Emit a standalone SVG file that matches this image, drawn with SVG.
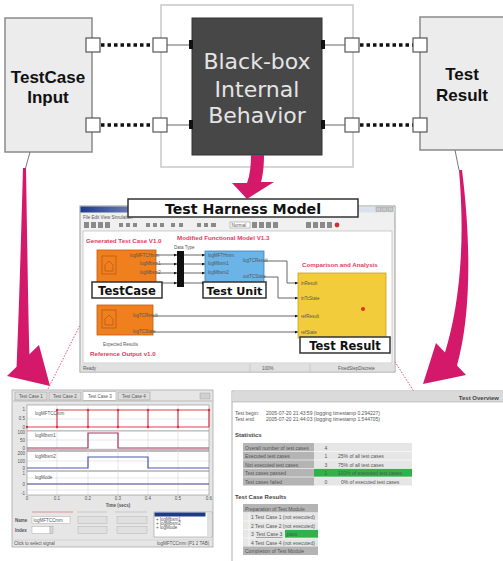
<svg xmlns="http://www.w3.org/2000/svg" width="503" height="561" viewBox="0 0 503 561">
  <style>
    .box { fill: #ececec; stroke: #8a8a8a; stroke-width: 1.5; }
    .port { fill: #ffffff; stroke: #555555; stroke-width: 1.2; }
    .dots { stroke: #111111; stroke-width: 3.5; stroke-dasharray: 3.5 3; fill: none; }
    .wire { stroke: #666666; stroke-width: 1; fill: none; }
    .pin { fill: #111111; }
    .big { font-family: "Liberation Sans", Arial, sans-serif; font-weight: bold; font-size: 17px; fill: #111111; text-anchor: middle; }
    .inner { font-family: "DejaVu Sans", Verdana, sans-serif; font-size: 22px; fill: #e4e4e4; text-anchor: middle; }
    .tag { fill: #ffffff; stroke: #333333; stroke-width: 1.5; }
    .tagt { font-family: "DejaVu Sans", Verdana, sans-serif; font-weight: bold; fill: #111111; text-anchor: middle; }
    .swoosh { fill: #d4196b; }
    .lead { stroke: #e0507a; stroke-width: 1; stroke-dasharray: 1.5 1.5; fill: none; }
    .tiny { font-family: "Liberation Sans", Arial, sans-serif; font-size: 4.5px; fill: #555555; }
    .redt { font-family: "Liberation Sans", Arial, sans-serif; font-weight: bold; font-size: 6.2px; fill: #e23a5e; }
    .sig { stroke-width: 1.2; fill: none; }
    .grid { stroke: #d6d6d6; stroke-width: 0.6; }
    .tb { fill: #b4b4b4; }
    .tl { fill: #e6e6e6; }
    .rep { font-family: "Liberation Sans", Arial, sans-serif; font-size: 5px; fill: #555555; }
    .reph { font-family: "Liberation Sans", Arial, sans-serif; font-size: 6px; font-weight: bold; fill: #444444; }
  </style>
  <defs>
    <marker id="tip" viewBox="0 0 4 4" refX="4" refY="2" markerWidth="3" markerHeight="3" orient="auto">
      <path d="M0 0 L4 2 L0 4 Z" fill="#111111"/>
    </marker>
    <linearGradient id="titlebar" x1="0" x2="1" y1="0" y2="0">
      <stop offset="0" stop-color="#1e3a8c"/>
      <stop offset="0.2" stop-color="#7d8fbf"/>
      <stop offset="0.4" stop-color="#cfd8e8"/>
      <stop offset="1" stop-color="#dde3ee"/>
    </linearGradient>
  </defs>

  <!-- test case input block -->
  <g id="testcase-input">
    <rect class="box" x="5" y="18" width="87" height="134"/>
    <text class="big" x="48" y="83">TestCase</text>
    <text class="big" x="48" y="103">Input</text>
  </g>

  <!-- black box frame -->
  <g id="blackbox">
    <rect x="161" y="5" width="192" height="162" fill="#ffffff" stroke="#c8c8c8" stroke-width="1.5"/>
    <rect x="192" y="18" width="130" height="137" fill="#474747" stroke="#333333" stroke-width="1"/>
    <text class="inner" x="257" y="69">Black-box</text>
    <text class="inner" x="257" y="97">Internal</text>
    <text class="inner" x="257" y="123">Behavior</text>
  </g>

  <!-- test result block -->
  <g id="test-result">
    <rect class="box" x="420" y="17" width="92" height="133"/>
    <text class="big" x="462" y="80">Test</text>
    <text class="big" x="462" y="101">Result</text>
  </g>

  <!-- ports and signal links -->
  <g id="connectors">
    <line class="dots" x1="101" y1="45" x2="153" y2="45"/>
    <line class="dots" x1="101" y1="125" x2="153" y2="125"/>
    <line class="dots" x1="360" y1="45" x2="413" y2="45"/>
    <line class="dots" x1="360" y1="125" x2="413" y2="125"/>
    <line class="wire" x1="167" y1="45" x2="191" y2="45"/>
    <line class="wire" x1="167" y1="125" x2="191" y2="125"/>
    <line class="wire" x1="325" y1="45" x2="345" y2="45"/>
    <line class="wire" x1="325" y1="125" x2="345" y2="125"/>
    <rect class="pin" x="189" y="40" width="4" height="9"/>
    <rect class="pin" x="189" y="120" width="4" height="9"/>
    <rect class="pin" x="321" y="40" width="4" height="9"/>
    <rect class="pin" x="321" y="120" width="4" height="9"/>
    <rect class="port" x="86" y="38" width="14" height="14"/>
    <rect class="port" x="86" y="118" width="14" height="14"/>
    <rect class="port" x="153" y="38" width="14" height="14"/>
    <rect class="port" x="153" y="118" width="14" height="14"/>
    <rect class="port" x="345" y="38" width="14" height="14"/>
    <rect class="port" x="345" y="118" width="14" height="14"/>
    <rect class="port" x="413" y="38" width="14" height="14"/>
    <rect class="port" x="413" y="118" width="14" height="14"/>

    <!-- thin stems and curved arrows -->
    <line x1="30" y1="152" x2="25" y2="170" stroke="#777777" stroke-width="1"/>
    <line x1="455" y1="150" x2="459" y2="170" stroke="#777777" stroke-width="1"/>
    <path class="swoosh" d="M251 155 L264 155 C264 165 263 175 261 182 L274 182 L247 199 L232 183 L247 183 C250 175 251 165 251 155 Z"/>
    <path class="swoosh" d="M23 168 C21 240 19 310 16.6 366.7 L7 376 L50 386 L39 345 L29.4 354.3 C28 300 27 230 26 168 Z"/>
    <path class="swoosh" d="M462 170 C472 250 470 320 457 365.4 L466 375 L423 384 L436 343 L445 352.6 C458 310 466 250 459 170 Z"/>

    <!-- dotted leaders -->
    <line class="lead" x1="93" y1="299" x2="46" y2="393"/>
    <line class="lead" x1="363" y1="309" x2="381" y2="337"/>
    <line class="lead" x1="390" y1="354" x2="420" y2="401"/>
  </g>

  <!-- harness model window -->
  <g id="harness-model">
    <rect x="80" y="206" width="315" height="166" fill="#f0f0f0" stroke="#9a9a9a" stroke-width="1"/>
    <rect x="80.5" y="206.5" width="314" height="6" fill="url(#titlebar)"/>
    <rect x="376" y="207" width="5" height="4.5" fill="#c8c8c8" stroke="#888" stroke-width="0.4"/>
    <rect x="382" y="207" width="5" height="4.5" fill="#c8c8c8" stroke="#888" stroke-width="0.4"/>
    <rect x="388" y="207" width="5" height="4.5" fill="#c8c8c8" stroke="#888" stroke-width="0.4"/>
    <text class="tiny" x="83" y="218.5">File  Edit  View  Simulation</text>
    <g fill="#8a8a8a">
      <rect x="84" y="222" width="5" height="6"/><rect x="91" y="222" width="5" height="6"/><rect x="98" y="222" width="5" height="6"/><rect x="105" y="222" width="5" height="6"/>
      <rect x="119" y="223" width="4" height="4"/><rect x="126" y="223" width="4" height="4"/><rect x="133" y="223" width="4" height="4"/>
      <rect x="146" y="223" width="4" height="4"/><rect x="153" y="223" width="4" height="4"/><rect x="160" y="223" width="4" height="4"/>
      <rect x="171" y="223" width="4" height="4"/><rect x="179" y="223" width="4" height="4"/>
      <rect x="197" y="223" width="4" height="4"/><rect x="204" y="223" width="4" height="4"/><rect x="211" y="223" width="5" height="4"/>
      <rect x="252" y="222" width="5" height="6"/><rect x="259" y="222" width="5" height="6"/><rect x="266" y="222" width="5" height="6"/><rect x="273" y="222" width="5" height="6"/>
      <rect x="306" y="222" width="5" height="6"/><rect x="313" y="222" width="5" height="6"/><rect x="320" y="222" width="5" height="6"/><rect x="327" y="222" width="5" height="6"/>
    </g>
    <circle cx="337" cy="225" r="2.4" fill="#d03030"/>
    <rect x="230" y="222" width="20" height="6" fill="#ffffff" stroke="#888" stroke-width="0.5"/>
    <text class="tiny" x="231.5" y="226.8" font-size="4">Normal</text>
    <rect x="83" y="231" width="309" height="132" fill="#ffffff" stroke="#b0b0b0" stroke-width="0.6"/>
    <rect x="80.5" y="364" width="314" height="7.5" fill="#e0e0e0"/>
    <line x1="250" y1="364" x2="250" y2="371.5" stroke="#b8b8b8" stroke-width="0.6"/>
    <line x1="310" y1="364" x2="310" y2="371.5" stroke="#b8b8b8" stroke-width="0.6"/>
    <text class="tiny" x="83" y="370" font-size="4">Ready</text>
    <text class="tiny" x="262" y="370" font-size="4">100%</text>
    <text class="tiny" x="338" y="370" font-size="4">FixedStepDiscrete</text>

    <text class="redt" x="86" y="243">Generated Test Case V1.0</text>
    <text class="redt" x="177" y="240">Modified Functional Model V1.3</text>
    <text class="redt" x="302" y="267">Comparison and Analysis</text>
    <text class="redt" x="90" y="356">Reference Output v1.0</text>
    <text class="tiny" x="103" y="345.5" font-size="4">Expected Results</text>
    <text class="tiny" x="174" y="249" font-size="3.5">Data Type</text>

    <!-- model wiring -->
    <g class="wire" stroke-width="0.8">
      <path d="M156 255 H177" marker-end="url(#tip)"/>
      <path d="M156 264 H177" marker-end="url(#tip)"/>
      <path d="M156 273 H177" marker-end="url(#tip)"/>
      <path d="M156 283 H177" marker-end="url(#tip)"/>
      <path d="M184 255 H205" marker-end="url(#tip)"/>
      <path d="M184 264 H205" marker-end="url(#tip)"/>
      <path d="M184 273 H205" marker-end="url(#tip)"/>
      <path d="M184 283 H205" marker-end="url(#tip)"/>
      <path d="M264 261 H287 V283 H298" marker-end="url(#tip)"/>
      <path d="M264 277 H278 V298 H298" marker-end="url(#tip)"/>
      <path d="M153 316 H298" marker-end="url(#tip)"/>
      <path d="M153 332 H298" marker-end="url(#tip)"/>
    </g>
    <rect x="177" y="251" width="7" height="36" fill="#111111"/>

    <!-- generated test case block -->
    <rect x="97" y="250" width="59" height="35" fill="#f07f1e" stroke="#c05a10" stroke-width="0.8"/>
    <g fill="none" stroke="#b85a18" stroke-width="0.8">
      <rect x="102" y="256" width="14" height="18"/>
      <path d="M104 266 L109 261 L114 266 M105 266 V271 H113 V266"/>
    </g>
    <text class="tiny" x="130" y="256.5" font-size="3.3" fill="#7a3a08">logMFTCHmm</text>
    <text class="tiny" x="140" y="265" font-size="3.3" fill="#7a3a08">logMbsm1</text>
    <text class="tiny" x="140" y="274" font-size="3.3" fill="#7a3a08">logMbsm2</text>

    <!-- expected results block -->
    <rect x="97" y="305" width="56" height="30" fill="#f07f1e" stroke="#c05a10" stroke-width="0.8"/>
    <g fill="none" stroke="#b85a18" stroke-width="0.8">
      <rect x="102" y="310" width="14" height="18"/>
      <path d="M104 320 L109 315 L114 320 M105 320 V325 H113 V320"/>
    </g>
    <text class="tiny" x="133" y="317" font-size="3.3" fill="#7a3a08">logTCResult</text>
    <text class="tiny" x="133" y="333" font-size="3.3" fill="#7a3a08">logTCState</text>

    <!-- unit under test -->
    <rect x="205" y="251" width="59" height="32" fill="#6ab4e8" stroke="#3a80b8" stroke-width="0.8"/>
    <text class="tiny" x="208" y="256.5" font-size="3.3" fill="#234">logMFTHmm</text>
    <text class="tiny" x="208" y="265" font-size="3.3" fill="#234">logMbsm1</text>
    <text class="tiny" x="208" y="274" font-size="3.3" fill="#234">logMbsm2</text>
    <text class="tiny" x="243" y="262" font-size="3.3" fill="#234">logTCResult</text>
    <text class="tiny" x="243" y="278" font-size="3.3" fill="#234">outTCState</text>

    <!-- comparison block -->
    <rect x="298" y="273" width="88" height="65" fill="#f2cc3a" stroke="#c8a020" stroke-width="0.8"/>
    <text class="tiny" x="301" y="284.5" font-size="3.3" fill="#554">inResult</text>
    <text class="tiny" x="301" y="299.5" font-size="3.3" fill="#554">inTcState</text>
    <text class="tiny" x="301" y="317.5" font-size="3.3" fill="#554">refResult</text>
    <text class="tiny" x="301" y="333.5" font-size="3.3" fill="#554">refState</text>
    <circle cx="363" cy="309" r="2" fill="#e03020"/>
  </g>

  <!-- callout labels -->
  <g id="label-harness">
    <rect class="tag" x="128" y="199" width="230" height="18"/>
    <text class="tagt" x="243" y="213.5" font-size="14.2">Test Harness Model</text>
  </g>
  <g id="label-testcase">
    <rect class="tag" x="92" y="282" width="70" height="16"/>
    <text class="tagt" x="127" y="294.5" font-size="11.6">TestCase</text>
  </g>
  <g id="label-testunit">
    <rect class="tag" x="203" y="282" width="63" height="16"/>
    <text class="tagt" x="234.5" y="294.5" font-size="11.2">Test Unit</text>
  </g>
  <g id="label-testresult">
    <rect class="tag" x="300" y="337" width="90" height="16"/>
    <text class="tagt" x="345" y="349.5" font-size="11.5">Test Result</text>
  </g>

  <!-- signal viewer window -->
  <g id="signal-viewer">
    <rect x="12" y="390" width="201" height="157" fill="#e6e6e6" stroke="#a8a8a8" stroke-width="0.8"/>
    <rect x="15" y="392" width="32" height="8" fill="#dcdcdc" stroke="#999" stroke-width="0.5"/>
    <rect x="49" y="392" width="32" height="8" fill="#dcdcdc" stroke="#999" stroke-width="0.5"/>
    <rect x="83" y="391.5" width="33" height="9" fill="#ffffff" stroke="#999" stroke-width="0.5"/>
    <rect x="118" y="392" width="32" height="8" fill="#dcdcdc" stroke="#999" stroke-width="0.5"/>
    <text class="tiny" x="19" y="398" font-size="4">Test Case 1</text>
    <text class="tiny" x="53" y="398" font-size="4">Test Case 2</text>
    <text class="tiny" x="88" y="398" font-size="4">Test Case 3</text>
    <text class="tiny" x="122" y="398" font-size="4">Test Case 4</text>
    <rect x="200" y="393" width="10" height="6" fill="#d0d0d0" stroke="#999" stroke-width="0.4"/>
    <line x1="13" y1="401" x2="212" y2="401" stroke="#a0a0a0" stroke-width="0.6"/>

    <!-- plot panes -->
    <rect x="27" y="405" width="182" height="25" fill="#ffffff"/>
    <rect x="27" y="431.5" width="182" height="17" fill="#ffffff"/>
    <rect x="27" y="452" width="182" height="18" fill="#ffffff"/>
    <rect x="27" y="472" width="182" height="23" fill="#ffffff"/>
    <rect x="27" y="449" width="182" height="3" fill="#c2b8bc"/>
    <rect x="27" y="470" width="182" height="2" fill="#c4c4c4"/>
    <rect x="27" y="430" width="182" height="1.5" fill="#c4c4c4"/>
    <g class="grid">
      <line x1="57" y1="405" x2="57" y2="495"/><line x1="88" y1="405" x2="88" y2="495"/>
      <line x1="118" y1="405" x2="118" y2="495"/><line x1="148" y1="405" x2="148" y2="495"/>
      <line x1="178" y1="405" x2="178" y2="495"/>
      <line x1="27" y1="419" x2="209" y2="419"/><line x1="27" y1="440" x2="209" y2="440"/>
      <line x1="27" y1="461" x2="209" y2="461"/><line x1="27" y1="478" x2="209" y2="478"/>
      <line x1="27" y1="490" x2="209" y2="490"/>
    </g>
    <rect x="27" y="405" width="182" height="90" fill="none" stroke="#8a8a8a" stroke-width="0.6"/>

    <g class="tiny" font-size="4" text-anchor="end">
      <text x="25" y="411">1</text><text x="25" y="420">0.5</text><text x="25" y="429">0</text>
      <text x="25" y="434">100</text><text x="25" y="442">50</text><text x="25" y="450">0</text>
      <text x="25" y="455">200</text><text x="25" y="463">100</text><text x="25" y="470">0</text>
      <text x="25" y="475">1</text><text x="25" y="486">0</text><text x="25" y="495">-1</text>
    </g>
    <g class="tiny" font-size="4" text-anchor="middle">
      <text x="27" y="500">0</text><text x="57" y="500">0.1</text><text x="88" y="500">0.2</text>
      <text x="118" y="500">0.3</text><text x="148" y="500">0.4</text><text x="178" y="500">0.5</text>
      <text x="209" y="500">0.6</text>
    </g>
    <text class="tiny" x="118" y="506.5" font-size="4.5" font-weight="bold" text-anchor="middle">Time (secs)</text>

    <!-- signals -->
    <path class="sig" stroke="#e0404e" stroke-width="1.8" d="M27 427 H209"/>
    <path class="sig" stroke="#e0404e" stroke-width="0.9" d="M57 410 H209 M57 410 V427 M88 410 V427 M118 410 V427 M148 410 V427 M178 410 V427 M209 410 V427"/>
    <g fill="#d83040">
      <circle cx="57" cy="410" r="1.2"/><circle cx="88" cy="410" r="1.2"/><circle cx="118" cy="410" r="1.2"/>
      <circle cx="148" cy="410" r="1.2"/><circle cx="178" cy="410" r="1.2"/><circle cx="209" cy="410" r="1.2"/>
      <circle cx="27" cy="427" r="1.2"/><circle cx="57" cy="427" r="1.2"/><circle cx="88" cy="427" r="1.2"/>
      <circle cx="118" cy="427" r="1.2"/><circle cx="148" cy="427" r="1.2"/><circle cx="178" cy="427" r="1.2"/>
    </g>
    <path class="sig" stroke="#a83858" d="M27 448 H88 V433 H118 V448 H209"/>
    <path class="sig" stroke="#4a58b8" d="M27 468 H88 V457 H148 V468 H209"/>
    <path class="sig" stroke="#3c3c80" d="M27 484 H209"/>
    <text class="tiny" x="35" y="415" font-size="4" fill="#e04050">logMFTCCmm</text>
    <text class="tiny" x="35" y="437" font-size="4" fill="#c04060">logMbsm1</text>
    <text class="tiny" x="35" y="458" font-size="4" fill="#4a58b8">logMbsm2</text>
    <text class="tiny" x="35" y="479" font-size="4" fill="#404070">logMode</text>

    <!-- property controls -->
    <line x1="32" y1="512" x2="73" y2="512" stroke="#e08080" stroke-width="0.8"/>
    <line x1="77" y1="512" x2="107" y2="512" stroke="#c0c0c0" stroke-width="0.8"/>
    <line x1="115" y1="512" x2="147" y2="512" stroke="#c0c0c0" stroke-width="0.8"/>
    <text class="tiny" x="15" y="522" font-size="4" font-weight="bold">Name</text>
    <text class="tiny" x="15" y="532" font-size="4" font-weight="bold">Index</text>
    <rect x="32" y="516.5" width="38" height="7" fill="#ffffff" stroke="#999" stroke-width="0.4"/>
    <text class="tiny" x="33.5" y="522" font-size="3.8">logMFTCCmm</text>
    <rect x="32" y="526.5" width="18" height="7" fill="#ffffff" stroke="#999" stroke-width="0.4"/>
    <rect x="50" y="526.5" width="3" height="7" fill="#d8d8d8" stroke="#999" stroke-width="0.4"/>
    <rect x="78" y="516.5" width="29" height="7" fill="#e0e0e0" stroke="#aaa" stroke-width="0.4"/>
    <rect x="78" y="526.5" width="29" height="7" fill="#e0e0e0" stroke="#aaa" stroke-width="0.4"/>
    <rect x="117" y="516.5" width="30" height="7" fill="#e0e0e0" stroke="#aaa" stroke-width="0.4"/>
    <rect x="117" y="526.5" width="30" height="7" fill="#e0e0e0" stroke="#aaa" stroke-width="0.4"/>
    <rect x="154" y="512" width="58" height="25" fill="#ffffff" stroke="#888" stroke-width="0.5"/>
    <rect x="154.5" y="512.5" width="51" height="4" fill="#1e3a8c"/>
    <text class="tiny" x="156" y="521" font-size="3.5">+ logMbsm1</text>
    <text class="tiny" x="156" y="525" font-size="3.5">+ logMbsm2</text>
    <text class="tiny" x="156" y="529" font-size="3.5">+ logMode</text>
    <rect x="207" y="512.5" width="4.5" height="24" fill="#e0e0e0"/>
    <line x1="13" y1="540" x2="212" y2="540" stroke="#c0c0c0" stroke-width="0.5"/>
    <text class="tiny" x="14" y="545" font-size="3.5">Click to select signal</text>
    <text class="tiny" x="157" y="545" font-size="3.5">logMFTCCmm (P1 2 TAB)</text>
  </g>

  <!-- test report window -->
  <g id="test-overview">
    <rect x="232" y="391" width="275" height="172" fill="#ffffff" stroke="#9a9a9a" stroke-width="0.8"/>
    <rect x="232.4" y="391.4" width="271" height="10.6" fill="#dadada"/>
    <line x1="232" y1="402" x2="503" y2="402" stroke="#a8a8a8" stroke-width="0.6"/>
    <text class="reph" x="499" y="399.5" text-anchor="end">Test Overview</text>

    <text class="rep" x="235" y="415">Test begin:</text>
    <text class="rep" x="266" y="415">2005-07-20 21:43:59 (logging timestamp 0.294227)</text>
    <text class="rep" x="235" y="421">Test end:</text>
    <text class="rep" x="266" y="421">2005-07-20 21:44:03 (logging timestamp 1.544705)</text>
    <text class="reph" x="235" y="437" font-size="5.2">Statistics</text>

    <rect class="tb" x="243" y="443" width="71" height="42.5"/>
    <rect class="tl" x="314" y="443" width="98" height="42.5"/>
    <rect x="314" y="468.5" width="98" height="8.5" fill="#2db34a"/>
    <g stroke="#ffffff" stroke-width="0.6">
      <line x1="243" y1="451.5" x2="412" y2="451.5"/><line x1="243" y1="460" x2="412" y2="460"/>
      <line x1="243" y1="468.5" x2="412" y2="468.5"/><line x1="243" y1="477" x2="412" y2="477"/>
    </g>
    <text class="rep" x="245" y="449.5">Overall number of test cases</text>
    <text class="rep" x="245" y="458">Executed test cases</text>
    <text class="rep" x="245" y="466.5">Not executed test cases</text>
    <text class="rep" x="245" y="475">Test cases passed</text>
    <text class="rep" x="245" y="483.5">Test cases failed</text>
    <g class="rep" text-anchor="middle">
      <text x="326" y="449.5">4</text><text x="326" y="458">1</text><text x="326" y="466.5">3</text>
      <text x="326" y="475">1</text><text x="326" y="483.5">0</text>
    </g>
    <text class="rep" x="338" y="458">25% of all test cases</text>
    <text class="rep" x="338" y="466.5">75% of all test cases</text>
    <text class="rep" x="338" y="475" fill="#1d5e2a">100% of executed test cases</text>
    <text class="rep" x="341" y="483.5">0% of executed test cases</text>

    <text class="reph" x="235" y="499" font-size="5.2">Test Case Results</text>
    <rect class="tb" x="243" y="504" width="75" height="8.5"/>
    <rect class="tl" x="243" y="512.5" width="75" height="34"/>
    <rect class="tb" x="243" y="546.5" width="75" height="8.5"/>
    <rect x="285" y="529.5" width="33" height="8.5" fill="#2db34a"/>
    <g stroke="#ffffff" stroke-width="0.6">
      <line x1="243" y1="521" x2="318" y2="521"/><line x1="243" y1="529.5" x2="318" y2="529.5"/>
      <line x1="243" y1="538" x2="318" y2="538"/><line x1="249" y1="512.5" x2="249" y2="546.5"/>
    </g>
    <text class="rep" x="245" y="510.5">Preparation of Test Module</text>
    <text class="rep" x="251" y="519">1 Test Case 1 (not executed)</text>
    <text class="rep" x="251" y="527.5">2 Test Case 2 (not executed)</text>
    <text class="rep" x="251" y="536">3</text>
    <text class="rep" x="256" y="536" fill="#3a4ab8" text-decoration="underline">Test Case 3</text>
    <text class="rep" x="281" y="536">:</text>
    <text class="rep" x="287" y="536" fill="#1d5e2a">pass</text>
    <text class="rep" x="251" y="544.5">4 Test Case 4 (not executed)</text>
    <text class="rep" x="245" y="553">Completion of Test Module</text>
  </g>
</svg>
